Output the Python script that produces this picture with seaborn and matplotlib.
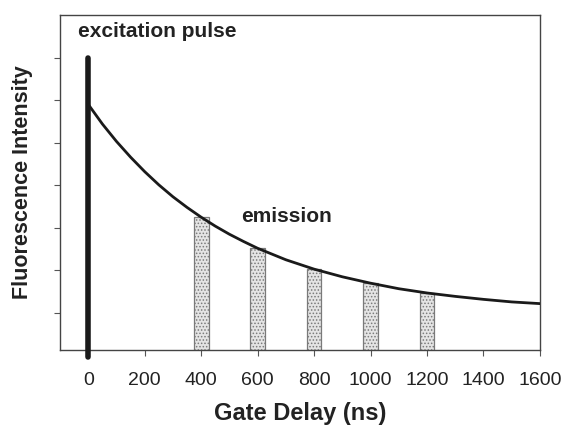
import matplotlib
matplotlib.use("Agg")
import matplotlib.pyplot as plt
import seaborn as sns
import pandas as pd

# values
curve_t = [0, 50, 100, 150, 200, 250, 300, 350, 400, 450, 500, 550, 600,
           700, 800, 900, 1000, 1100, 1200, 1300, 1400, 1500, 1600]
curve_y = [5.90, 5.44, 5.03, 4.66, 4.32, 4.01, 3.73, 3.48, 3.25, 3.04, 2.85, 2.68, 2.52,
           2.25, 2.03, 1.85, 1.70, 1.57, 1.47, 1.39, 1.32, 1.26, 1.22]
gate_t = [400, 600, 800, 1000, 1200]
gate_y = [3.25, 2.52, 2.03, 1.70, 1.47]
pulse_t = [0, 0]
pulse_y = [-0.04, 7.0]
xticks = [0, 200, 400, 600, 800, 1000, 1200, 1400, 1600]
yticks = [1, 2, 3, 4, 5, 6, 7]

sns.set_theme(style="ticks")
plt.rcParams['font.family'] = ['Liberation Sans', 'DejaVu Sans']
plt.rcParams['hatch.linewidth'] = 0.7

fig = plt.figure(figsize=(5.63, 4.28), dpi=100)
ax = fig.add_axes([0.1066, 0.1822, 0.959 - 0.1066, 0.965 - 0.1822])

gates = pd.DataFrame({'t': gate_t, 'y': gate_y})
sns.barplot(data=gates, x='t', y='y', native_scale=True, width=0.26,
            errorbar=None, color='#e4e4e4', edgecolor='#7a7a7a', linewidth=0.9,
            hatch='.....', ax=ax, zorder=1)

sns.lineplot(x=curve_t, y=curve_y, color='#1a1a1a', linewidth=2.0, ax=ax, zorder=3)

ax.plot(pulse_t, pulse_y, color='#1a1a1a', linewidth=4.0, solid_capstyle='round',
        clip_on=False, zorder=4)

ax.set_xlim(-100, 1600)
ax.set_ylim(0.13, 8.0)
ax.set_xticks(xticks)
ax.set_xticklabels([str(v) for v in xticks], fontsize=14, color='#222222')
ax.set_yticks(yticks)
ax.set_yticklabels([])
ax.tick_params(axis='both', direction='out', length=4, width=0.8, color='#555555')
ax.tick_params(axis='x', pad=12)

for s in ax.spines.values():
    s.set_visible(True)
    s.set_color('#444444')
    s.set_linewidth(1.0)

ax.set_xlabel('Gate Delay (ns)', fontsize=17, fontweight='bold', color='#222222', labelpad=9)
ax.set_ylabel('Fluorescence Intensity', fontsize=15.5, fontweight='bold', color='#222222', labelpad=12)

ax.text(-36, 7.61, 'excitation pulse', fontsize=15, fontweight='bold', color='#222222',
        va='center', ha='left')
ax.text(543, 3.26, 'emission', fontsize=15, fontweight='bold', color='#222222',
        va='center', ha='left')

fig.savefig('out.png', dpi=100)
